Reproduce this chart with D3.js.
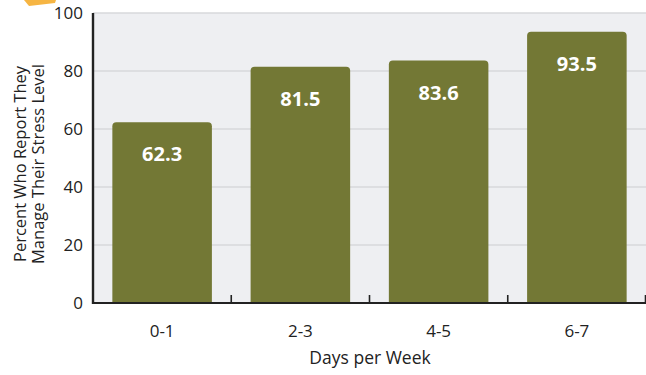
<!DOCTYPE html>
<html>
<head>
<meta charset="utf-8">
<script src="https://cdn.jsdelivr.net/npm/d3@7"></script>
<style>
  html, body { margin: 0; padding: 0; background: #fff; }
  svg { display: block; font-family: "Open Sans", "Noto Sans", sans-serif; }
</style>
</head>
<body>
<svg id="chart" width="646" height="375"></svg>
<script>
// Share of people who report managing their stress, by exercise days per week
const categories = ["0-1", "2-3", "4-5", "6-7"];
const values = [62.3, 81.5, 83.6, 93.5];
const yTicks = [0, 20, 40, 60, 80, 100];

const svg = d3.select("#chart");
const margin = { left: 93, right: 0, top: 13, bottom: 72 };
const W = 646, H = 375;
const x0 = margin.left, x1 = W - margin.right;
const y0 = H - margin.bottom, y1 = margin.top;

const x = d3.scaleBand().domain(categories).range([x0, x1])
  .paddingInner(0.28).paddingOuter(0.14);
const y = d3.scaleLinear().domain([0, 100]).range([y0, y1]);

// small orange accent cut off at the top edge
svg.append("path")
  .attr("d", "M24,0 L56,0 L55,3 L29,6 Z")
  .attr("fill", "#f6b543");

// plot background
svg.append("rect")
  .attr("x", x0).attr("y", y1)
  .attr("width", x1 - x0).attr("height", y0 - y1)
  .attr("fill", "#eeeff2");

// horizontal gridlines
svg.append("g").selectAll("line")
  .data(yTicks.filter(d => d > 0))
  .join("line")
  .attr("x1", x0).attr("x2", x1)
  .attr("y1", d => y(d)).attr("y2", d => y(d))
  .attr("stroke", "#d7d8db").attr("stroke-width", 1.6);

// bars with rounded top corners
const r = 4;
function barPath(xs, w, yt, yb) {
  return `M${xs},${yb} L${xs},${yt + r} Q${xs},${yt} ${xs + r},${yt} ` +
         `L${xs + w - r},${yt} Q${xs + w},${yt} ${xs + w},${yt + r} L${xs + w},${yb} Z`;
}
svg.append("g").selectAll("path")
  .data(categories.map((c, i) => ({ c, v: values[i] })))
  .join("path")
  .attr("d", d => barPath(x(d.c), x.bandwidth(), y(d.v), y(0)))
  .attr("fill", "#737835");

// value labels inside bars
svg.append("g").selectAll("text")
  .data(categories.map((c, i) => ({ c, v: values[i] })))
  .join("text")
  .attr("x", d => x(d.c) + x.bandwidth() / 2)
  .attr("y", d => y(d.v) + 39)
  .attr("text-anchor", "middle")
  .attr("font-size", 20).attr("font-weight", "bold")
  .attr("fill", "#ffffff")
  .text(d => d.v.toFixed(1));

// x axis: baseline with ticks at category boundaries pointing up
const xAxisG = svg.append("g");
const bounds = categories.map(c => x(c) - x.step() * x.paddingInner() / 2);
bounds.push(x1 - 0.5);
xAxisG.selectAll("line.tick")
  .data(bounds.slice(1))
  .join("line").attr("class", "tick")
  .attr("x1", d => d).attr("x2", d => d)
  .attr("y1", y0).attr("y2", y0 - 8)
  .attr("stroke", "#222").attr("stroke-width", 1.6);
xAxisG.append("line")
  .attr("x1", x0 - 1).attr("x2", x1).attr("y1", y0).attr("y2", y0)
  .attr("stroke", "#222").attr("stroke-width", 2.2);
xAxisG.selectAll("text")
  .data(categories)
  .join("text")
  .attr("x", d => x(d) + x.bandwidth() / 2)
  .attr("y", y0 + 34)
  .attr("text-anchor", "middle")
  .attr("font-size", 17).attr("fill", "#222")
  .text(d => d);

// y axis
svg.append("line")
  .attr("x1", x0).attr("x2", x0).attr("y1", y1).attr("y2", y0 + 1)
  .attr("stroke", "#222").attr("stroke-width", 2.4);
svg.append("g").selectAll("text")
  .data(yTicks)
  .join("text")
  .attr("x", x0 - 10)
  .attr("y", d => y(d) + 6)
  .attr("text-anchor", "end")
  .attr("font-size", 17).attr("fill", "#222")
  .text(d => d);

// axis titles
svg.append("text")
  .attr("x", 370).attr("y", 364)
  .attr("text-anchor", "middle")
  .attr("font-size", 17.5).attr("fill", "#222")
  .text("Days per Week");

const yt = svg.append("text")
  .attr("transform", `translate(0,${(y0 + y1) / 2 + 6}) rotate(-90)`)
  .attr("text-anchor", "middle")
  .attr("font-size", 16.5).attr("fill", "#222");
yt.append("tspan").attr("x", 0).attr("y", 26).text("Percent Who Report They");
yt.append("tspan").attr("x", 0).attr("y", 44).text("Manage Their Stress Level");
</script>
</body>
</html>
